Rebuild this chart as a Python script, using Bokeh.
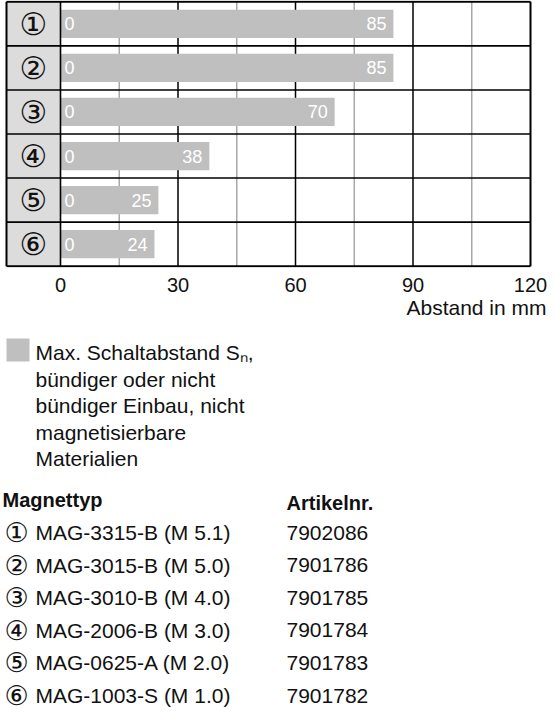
from bokeh.plotting import figure
from bokeh.models import Range1d, FactorRange, FixedTicker
from bokeh.layouts import column
from bokeh.embed import file_html
from bokeh.resources import INLINE
from bokeh.core.properties import value

# ---- data ----
categories = ["①", "②", "③", "④", "⑤", "⑥"]
bar_starts = [0, 0, 0, 0, 0, 0]
distances = [85, 85, 70, 38, 25, 24]
x_ticks = [0, 30, 60, 90, 120]
minor_grid = [15, 45, 75, 105]
axis_title = "Abstand in mm"
legend_lines = ["Max. Schaltabstand S\u2099,", "bündiger oder nicht",
                "bündiger Einbau, nicht", "magnetisierbare", "Materialien"]
table_headers = ["Magnettyp", "Artikelnr."]
magnet_types = ["MAG-3315-B (M 5.1)", "MAG-3015-B (M 5.0)", "MAG-3010-B (M 4.0)",
                "MAG-2006-B (M 3.0)", "MAG-0625-A (M 2.0)", "MAG-1003-S (M 1.0)"]
article_numbers = ["7902086", "7901786", "7901785", "7901784", "7901783", "7901782"]

# ---- style / layout ----
FONT = "Liberation Sans"
CIRC_FONT = "DejaVu Sans"
BAR = "#bfbfbf"
LABEL_BG = "#dcdcdc"
TXT = "#111111"
W = 547
H1 = 294
H2 = 418
PX0 = 60.0          # pixel of value 0
PX120 = 530.0       # pixel of value 120
SCALE = (PX120 - PX0) / 120.0
XSTART = -PX0 / SCALE
XEND = 120 + (W - PX120) / SCALE
XL = -(PX0 - 6) / SCALE   # left edge of label column
XMAX = x_ticks[-1]

p = figure(width=W, height=H1, output_backend="svg", toolbar_location=None,
           x_range=Range1d(XSTART, XEND),
           y_range=FactorRange(factors=categories[::-1], range_padding=0.01),
           y_axis_location=None, min_border_left=0, min_border_right=0,
           min_border_top=0, min_border_bottom=0)
p.background_fill_color = "white"
p.outline_line_color = None

p.xaxis.ticker = FixedTicker(ticks=x_ticks, minor_ticks=minor_grid)
p.xaxis.axis_line_color = None
p.xaxis.major_tick_line_color = None
p.xaxis.minor_tick_line_color = None
p.xaxis.major_label_standoff = 4
p.xaxis.major_label_text_font = FONT
p.xaxis.major_label_text_font_size = "20px"
p.xaxis.major_label_text_color = TXT
p.xgrid.visible = False
p.ygrid.visible = False

n = len(categories)
# vertical grid lines (inside the chart box only)
p.segment(x0=minor_grid, x1=minor_grid, y0=0, y1=n, line_color="#a8a8a8", line_width=1.5)
p.segment(x0=x_ticks[1:-1], x1=x_ticks[1:-1], y0=0, y1=n, line_color="black", line_width=1.5)

# label column
p.hbar(y=categories, left=XL, right=0, height=1.0, color=LABEL_BG, line_color=None)
p.text(x=(XL) / 2, y=categories, text=categories, text_align="center",
       text_baseline="middle", text_font=value(CIRC_FONT), text_font_size="31px",
       text_color=TXT)

# bars
p.hbar(y=categories, left=bar_starts, right=distances, height=0.64,
       color=BAR, line_color=None)
p.text(x=bar_starts, y=categories, text=[str(v) for v in bar_starts], x_offset=4,
       text_align="left", text_baseline="middle", text_font=value(FONT),
       text_font_size="18px", text_color="white")
p.text(x=distances, y=categories, text=[str(v) for v in distances], x_offset=-7,
       text_align="right", text_baseline="middle", text_font=value(FONT),
       text_font_size="18px", text_color="white")

# row separators and box
bounds = list(range(1, n))
p.segment(x0=XL, x1=XMAX, y0=bounds, y1=bounds, line_color="black", line_width=1.6)
p.segment(x0=XL, x1=XMAX, y0=[0, n], y1=[0, n], line_color="black", line_width=2)
p.segment(x0=[XL, 0, XMAX], x1=[XL, 0, XMAX], y0=0, y1=n, line_color="black",
          line_width=[2, 1.6, 2])

# ---- text panel (axis title, legend, table) ----
q = figure(width=W, height=H2, output_backend="svg", toolbar_location=None,
           x_range=Range1d(0, W), y_range=Range1d(H2, 0),
           x_axis_location=None, y_axis_location=None, min_border=0)
q.outline_line_color = None
q.grid.visible = False

q.text(x=[W - 1], y=[13], text=[axis_title], text_align="right", text_baseline="middle",
       text_font=value(FONT), text_font_size="21px", text_color=TXT)

q.rect(x=[17.5], y=[55.5], width=23, height=23, color=BAR, line_color=None)
q.text(x=35, y=[58 + 26.5 * i for i in range(len(legend_lines))], text=legend_lines,
       text_align="left", text_baseline="middle", text_font=value(FONT),
       text_font_size="21px", text_color=TXT)

q.text(x=[2, 286], y=[205, 208], text=table_headers, text_align="left",
       text_baseline="middle", text_font=value(FONT), text_font_size="20px",
       text_font_style="bold", text_color=TXT)

rows_y = [238 + 32.6 * i for i in range(n)]
q.text(x=16, y=rows_y, text=categories, text_align="center", text_baseline="middle",
       text_font=value(CIRC_FONT), text_font_size="27px", text_color=TXT)
q.text(x=35, y=rows_y, text=magnet_types, text_align="left", text_baseline="middle",
       text_font=value(FONT), text_font_size="21px", text_color=TXT)
q.text(x=286, y=rows_y, text=article_numbers, text_align="left", text_baseline="middle",
       text_font=value(FONT), text_font_size="21px", text_color=TXT)

layout = column(p, q, spacing=0)
open("out.html", "w").write(file_html(layout, INLINE))
